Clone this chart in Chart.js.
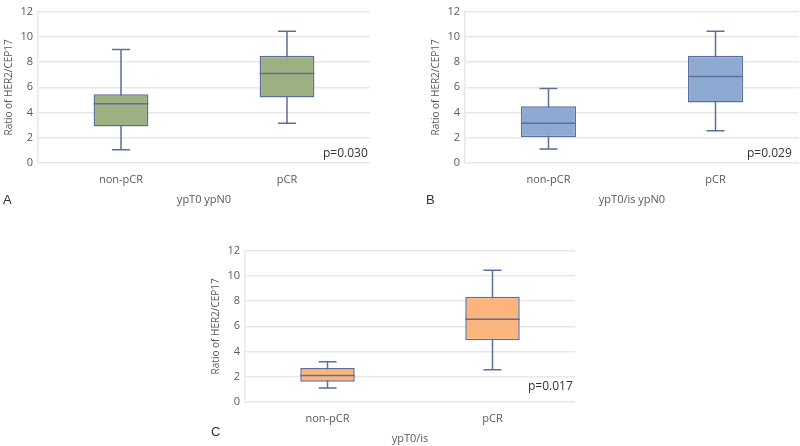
<!DOCTYPE html>
<html>
<head>
<meta charset="utf-8">
<script src="https://cdn.jsdelivr.net/npm/chart.js@4"></script>
<style>
  body { margin: 0; background: #fff; width: 800px; height: 446px; position: relative; overflow: hidden; font-family: "Open Sans", sans-serif; }
  canvas { position: absolute; }
  .lbl { position: absolute; font-family: "Liberation Sans", Arial, sans-serif; font-size: 13px; color: #333; line-height: 14px; }
  .pval { position: absolute; font-family: "Open Sans", sans-serif; font-size: 12px; color: #333; line-height: 14px; }
</style>
</head>
<body>
<canvas id="chartA"></canvas>
<canvas id="chartB"></canvas>
<canvas id="chartC"></canvas>
<div class="lbl" style="left:3px;top:193px">A</div>
<div class="lbl" style="left:426px;top:193px">B</div>
<div class="lbl" style="left:211px;top:425px">C</div>
<div class="pval" style="left:323px;top:146px">p=0.030</div>
<div class="pval" style="left:747px;top:146px">p=0.029</div>
<div class="pval" style="left:528px;top:379px">p=0.017</div>
<script>
var categories = ['non-pCR', 'pCR'];
var yMax = 12;
var yStep = 2;

// A: ypT0 ypN0
var minA = [1.05, 3.15];
var q1A = [2.9, 5.2];
var medA = [4.7, 7.1];
var q3A = [5.45, 8.5];
var maxA = [9.0, 10.45];

// B: ypT0/is ypN0
var minB = [1.1, 2.55];
var q1B = [2.05, 4.8];
var medB = [3.15, 6.85];
var q3B = [4.5, 8.5];
var maxB = [5.9, 10.45];

// C: ypT0/is
var minC = [1.1, 2.55];
var q1C = [1.6, 4.9];
var medC = [2.1, 6.55];
var q3C = [2.7, 8.35];
var maxC = [3.2, 10.45];

var edge = '#5b6f9c';
var textColor = '#595959';
var gridColor = '#e8e8e8';

var whiskers = {
    id: 'whiskers',
    beforeDatasetsDraw: function(chart, args, o) {
        var ctx = chart.ctx;
        var y = chart.scales.y;
        var meta = chart.getDatasetMeta(0);
        ctx.save();
        ctx.strokeStyle = edge;
        ctx.lineWidth = 1.5;
        meta.data.forEach(function(bar, i) {
            var x = bar.x;
            ctx.beginPath();
            ctx.moveTo(x, y.getPixelForValue(o.max[i]));
            ctx.lineTo(x, y.getPixelForValue(o.min[i]));
            ctx.moveTo(x - 9, y.getPixelForValue(o.max[i]));
            ctx.lineTo(x + 9, y.getPixelForValue(o.max[i]));
            ctx.moveTo(x - 9, y.getPixelForValue(o.min[i]));
            ctx.lineTo(x + 9, y.getPixelForValue(o.min[i]));
            ctx.stroke();
        });
        ctx.restore();
    },
    afterDatasetsDraw: function(chart, args, o) {
        var ctx = chart.ctx;
        var y = chart.scales.y;
        var meta = chart.getDatasetMeta(0);
        ctx.save();
        ctx.strokeStyle = edge;
        ctx.lineWidth = 1.5;
        meta.data.forEach(function(bar, i) {
            var py = y.getPixelForValue(o.med[i]);
            ctx.beginPath();
            ctx.moveTo(bar.x - bar.width / 2, py);
            ctx.lineTo(bar.x + bar.width / 2, py);
            ctx.stroke();
        });
        ctx.restore();
    }
};

function makePanel(id, axisX, topY, plotRight, bottomY, fill, xTitle, mn, q1, md, q3, mx) {
    var el = document.getElementById(id);
    var left = axisX - 36;
    var top = topY - 8;
    var w = plotRight - left + 2;
    var h = bottomY - top + 43;
    el.style.left = left + 'px';
    el.style.top = top + 'px';
    el.width = w;
    el.height = h;
    el.style.width = w + 'px';
    el.style.height = h + 'px';
    var boxes = q1.map(function(v, i) { return [v, q3[i]]; });
    return new Chart(el, {
        type: 'bar',
        data: {
            labels: categories,
            datasets: [{
                data: boxes,
                backgroundColor: fill,
                borderColor: edge,
                borderWidth: 1.5,
                borderSkipped: false,
                barPercentage: 0.33,
                categoryPercentage: 1
            }]
        },
        options: {
            responsive: false,
            animation: false,
            layout: { padding: { top: 8, right: 2, left: 0, bottom: 0 } },
            plugins: {
                legend: { display: false },
                tooltip: { enabled: false },
                whiskers: { min: mn, med: md, max: mx }
            },
            scales: {
                x: {
                    grid: { display: false, drawTicks: false },
                    border: { display: false },
                    ticks: { color: textColor, font: { family: 'Open Sans', size: 11 }, padding: 10 },
                    title: { display: true, text: xTitle, color: textColor, font: { family: 'Open Sans', size: 11 }, padding: 0 },
                    afterFit: function(s) { s.height = 43; }
                },
                y: {
                    min: 0,
                    max: yMax,
                    grid: { color: gridColor, lineWidth: 1.5, drawTicks: false },
                    border: { color: gridColor, width: 1.5 },
                    ticks: { stepSize: yStep, color: textColor, font: { family: 'Open Sans', size: 11 }, padding: 5 },
                    title: { display: true, text: 'Ratio of HER2/CEP17', color: textColor, font: { family: 'Open Sans', size: 10 }, padding: 1 },
                    afterFit: function(s) { s.width = 36; }
                }
            }
        },
        plugins: [whiskers]
    });
}

makePanel('chartA', 38, 8, 370, 163, '#9db082', 'ypT0 ypN0', minA, q1A, medA, q3A, maxA);
makePanel('chartB', 465, 8, 799, 163, '#8faad2', 'ypT0/is ypN0', minB, q1B, medB, q3B, maxB);
makePanel('chartC', 245, 247, 575, 402, '#fab47c', 'ypT0/is', minC, q1C, medC, q3C, maxC);
</script>
</body>
</html>
